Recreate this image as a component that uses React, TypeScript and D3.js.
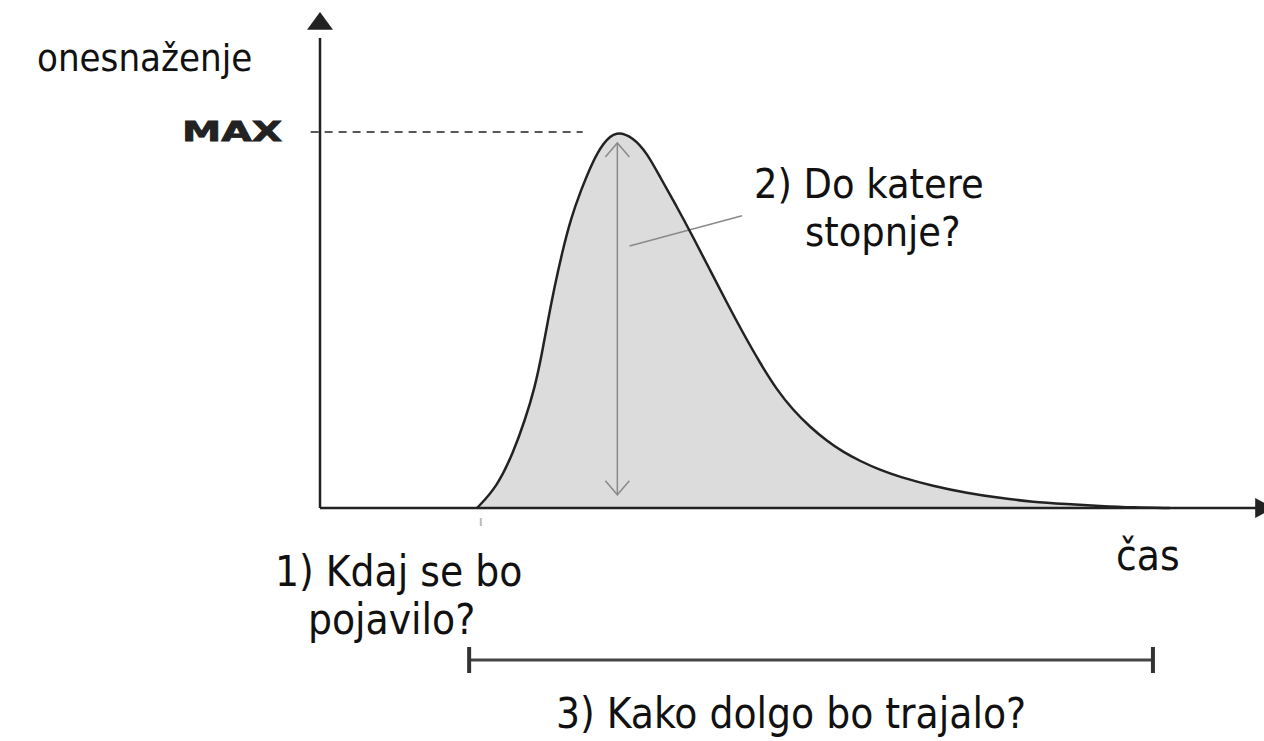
import * as d3 from 'd3';
import React, { useRef, useEffect } from 'react';

// curve: time (0..100 across the x axis), pollution (0..100 = MAX)
const timeValues = [16.74, 18.87, 20.58, 21.86, 22.92, 23.67, 24.31, 25.0, 25.8, 26.76, 27.83, 29.0, 30.17, 31.56, 33.37, 34.86, 36.25, 38.06, 39.77, 41.58, 43.39, 45.1, 46.91, 48.72, 50.43, 52.24, 54.05, 55.76, 57.57, 59.7, 61.83, 65.35, 68.98, 72.49, 76.01, 79.64, 83.16, 86.67, 90.62];
const pollutionValues = [0, 5.59, 14.63, 23.4, 32.18, 41.22, 50.0, 58.78, 67.82, 77.13, 84.57, 91.76, 97.07, 100.4, 98.6, 94.41, 88.03, 80.05, 72.07, 63.3, 54.52, 46.54, 38.56, 31.38, 26.06, 21.54, 17.82, 14.89, 12.5, 10.11, 8.24, 5.85, 3.99, 2.66, 1.6, 1.06, 0.53, 0.13, 0];

const maxLabel = 'MAX';
const yLabel = 'onesnaženje';
const xLabel = 'čas';
const question1 = ['1) Kdaj se bo', 'pojavilo?'];
const question2 = ['2) Do katere', 'stopnje?'];
const question3 = '3) Kako dolgo bo trajalo?';

// start / end of the duration bracket, peak time
const durationRange = [15.9, 88.8];
const peakTime = 31.7;

function App() {
  const ref = useRef(null);
  const width = 1264;
  const height = 741;

  useEffect(() => {
    const svg = d3.select(ref.current);
    svg.selectAll('*').remove();

    const x = d3.scaleLinear().domain([0, 100]).range([320, 1258]);
    const y = d3.scaleLinear().domain([0, 100]).range([508, 132]);
    const font = "'DejaVu Sans Condensed', 'DejaVu Sans', sans-serif";
    const ink = '#222';

    const pts = timeValues.map((t, i) => [t, pollutionValues[i]]);

    const area = d3.area()
      .x((d) => x(d[0]))
      .y0(y(0))
      .y1((d) => y(d[1]))
      .curve(d3.curveBasis);
    const line = d3.line()
      .x((d) => x(d[0]))
      .y((d) => y(d[1]))
      .curve(d3.curveBasis);

    svg.append('path').attr('d', area(pts)).attr('fill', '#dcdcdc');

    // MAX dashed line
    svg.append('line')
      .attr('x1', x(-1)).attr('x2', x(28))
      .attr('y1', y(100)).attr('y2', y(100))
      .attr('stroke', ink).attr('stroke-width', 1.5)
      .attr('stroke-dasharray', '8,6');

    // double arrow at the peak
    const ax = x(peakTime);
    const top = y(97.1), bot = y(3.5);
    const gray = '#8a8a8a';
    svg.append('line').attr('x1', ax).attr('x2', ax).attr('y1', top).attr('y2', bot)
      .attr('stroke', gray).attr('stroke-width', 1.5);
    svg.append('path')
      .attr('d', `M${ax - 12},${top + 14} L${ax},${top} L${ax + 12},${top + 14}`)
      .attr('fill', 'none').attr('stroke', gray).attr('stroke-width', 1.5);
    svg.append('path')
      .attr('d', `M${ax - 12},${bot - 14} L${ax},${bot} L${ax + 12},${bot - 14}`)
      .attr('fill', 'none').attr('stroke', gray).attr('stroke-width', 1.5);

    // leader line to question 2
    svg.append('line')
      .attr('x1', x(33.0)).attr('y1', y(69.7))
      .attr('x2', x(45.0)).attr('y2', y(77.7))
      .attr('stroke', gray).attr('stroke-width', 1.5);

    svg.append('path').attr('d', line(pts))
      .attr('fill', 'none').attr('stroke', ink).attr('stroke-width', 2.5);

    // axes
    svg.append('line')
      .attr('x1', x(0)).attr('x2', x(0)).attr('y1', y(0)).attr('y2', y(125))
      .attr('stroke', ink).attr('stroke-width', 2.5);
    svg.append('path')
      .attr('d', `M${x(0)},${y(131.9)} L${x(0) - 13},${y(127.2)} L${x(0) + 13},${y(127.2)} Z`)
      .attr('fill', ink);
    svg.append('line')
      .attr('x1', x(0)).attr('x2', x(100)).attr('y1', y(0)).attr('y2', y(0))
      .attr('stroke', ink).attr('stroke-width', 2.5);
    svg.append('path')
      .attr('d', `M${x(101.7)},${y(0)} L${x(99.7)},${y(0) - 10} L${x(99.7)},${y(0) + 10} Z`)
      .attr('fill', ink);

    // small tick where the curve starts
    const tickT = timeValues[0] + 0.4;
    svg.append('line')
      .attr('x1', x(tickT)).attr('x2', x(tickT))
      .attr('y1', y(0) + 10).attr('y2', y(0) + 18)
      .attr('stroke', '#bbb').attr('stroke-width', 2);

    // duration bracket
    const by = 660;
    svg.append('line')
      .attr('x1', x(durationRange[0])).attr('x2', x(durationRange[1]))
      .attr('y1', by).attr('y2', by)
      .attr('stroke', '#444').attr('stroke-width', 3);
    durationRange.forEach((t) => {
      svg.append('line')
        .attr('x1', x(t)).attr('x2', x(t)).attr('y1', by - 13).attr('y2', by + 13)
        .attr('stroke', '#333').attr('stroke-width', 4);
    });

    const text = (str, tx, ty, size) =>
      svg.append('text').text(str)
        .attr('x', tx).attr('y', ty)
        .attr('font-family', font).attr('font-size', size)
        .attr('fill', '#111');

    text(yLabel, 37, 71, 38);
    svg.append('text').text(maxLabel)
      .attr('x', 182).attr('y', 141)
      .attr('font-family', "'DejaVu Sans', Arial, sans-serif")
      .attr('font-weight', 'bold').attr('font-size', 27)
      .attr('textLength', 100).attr('lengthAdjust', 'spacingAndGlyphs')
      .attr('fill', '#222').attr('stroke', '#222').attr('stroke-width', 0.8);
    text(question2[0], 754, 198, 41);
    text(question2[1], 805, 246, 41);
    text(xLabel, 1116, 570, 42);
    text(question1[0], 275, 586, 42);
    text(question1[1], 308, 634, 42);
    text(question3, 556, 728, 42);
  }, []);

  return (
    <svg ref={ref} width={width} height={height}
      style={{ position: 'absolute', left: 0, top: 0, background: '#fff' }}>
    </svg>
  );
}

export default App;
